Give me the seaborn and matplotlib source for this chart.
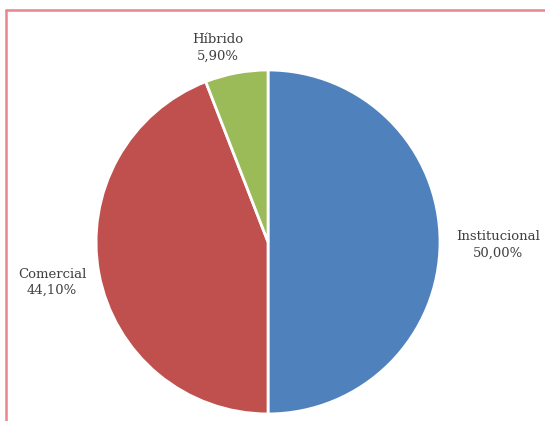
import matplotlib
matplotlib.use("Agg")
import matplotlib.pyplot as plt
import seaborn as sns
from matplotlib.lines import Line2D

categories = ["Institucional", "Comercial", "Híbrido"]
values = [50.00, 44.10, 5.90]
colors = ["#4f81bd", "#c0504d", "#9bbb59"]

sns.set_theme(style="white")
plt.rcParams["font.family"] = ["DejaVu Serif"]

fig = plt.figure(figsize=(5.45, 4.21), dpi=100)
ax = fig.add_axes([0, 0, 1, 1])
ax.pie(values, colors=colors, startangle=90, counterclock=False, radius=1,
       wedgeprops=dict(edgecolor="white", linewidth=2))
ax.set_xlim(-1.558, 1.610)
ax.set_ylim(-1.041, 1.407)
ax.set_aspect("equal")
ax.axis("off")

label_pos = [(1.337, -0.017), (-1.256, -0.233), (-0.29, 1.128)]
for cat, val, (x, y) in zip(categories, values, label_pos):
    txt = f"{cat}\n{val:.2f}%".replace(".", ",")
    ax.text(x, y, txt, ha="center", va="center", fontsize=9.5,
            color="#404040", linespacing=1.3)

border = "#e8868c"
fig.add_artist(Line2D([6/545, 1], [1-10/421, 1-10/421], color=border, lw=1.8,
                      transform=fig.transFigure))
fig.add_artist(Line2D([6/545, 6/545], [1-10/421, 0], color=border, lw=1.8,
                      transform=fig.transFigure))

fig.savefig("out.png", dpi=100, facecolor="white")
